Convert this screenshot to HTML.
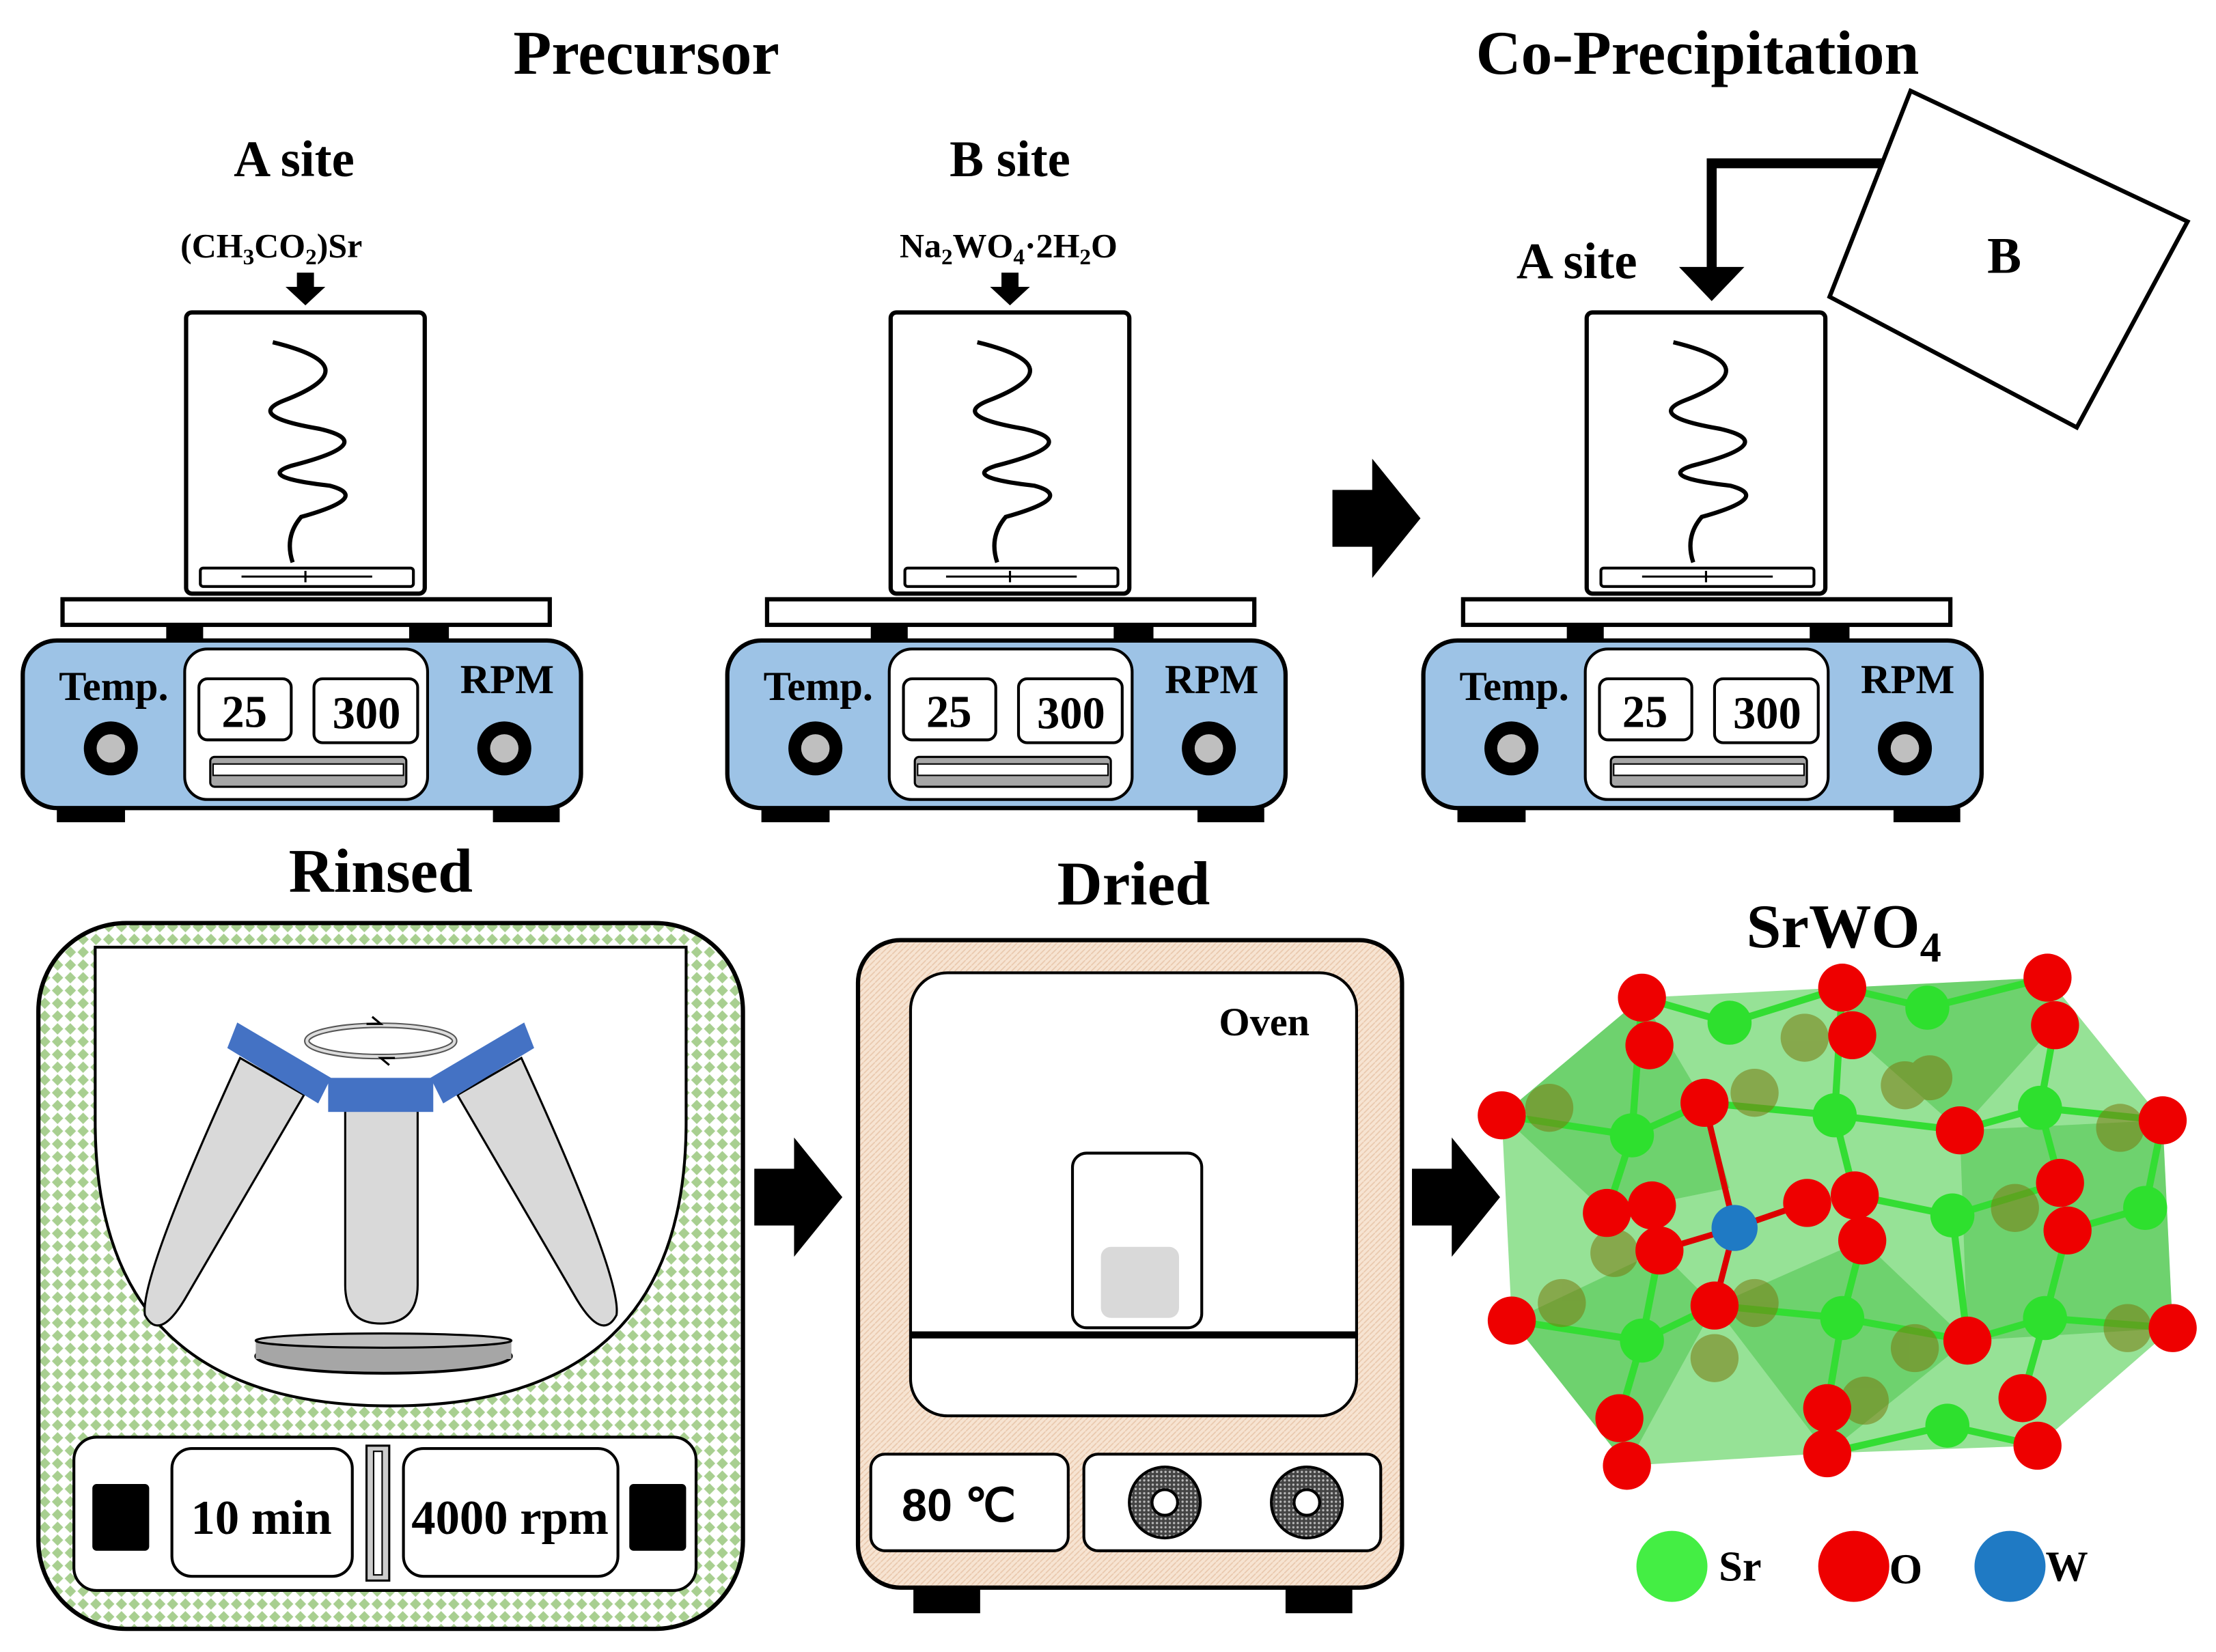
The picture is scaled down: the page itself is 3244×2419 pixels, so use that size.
<!DOCTYPE html>
<html><head><meta charset="utf-8"><style>html,body{margin:0;padding:0;background:#fff}svg{display:block}</style></head>
<body>
<svg width="3244" height="2419" viewBox="0 0 1560 1163.3" xmlns="http://www.w3.org/2000/svg" font-family="Liberation Serif, serif" font-weight="bold">
<defs>
<pattern id="dia" width="9" height="9" patternUnits="userSpaceOnUse">
<rect width="9" height="9" fill="#fff"/><path d="M4.5,0.5 L8.5,4.5 L4.5,8.5 L0.5,4.5Z" fill="#a8cf90"/></pattern>
<pattern id="peach" width="4" height="4" patternUnits="userSpaceOnUse"><rect width="4" height="4" fill="#f7e4d2"/><path d="M0,4 L4,0" stroke="#e9c8ad" stroke-width="0.8"/></pattern>
<pattern id="knobp" width="3" height="3" patternUnits="userSpaceOnUse"><rect width="3" height="3" fill="#444"/><circle cx="1.5" cy="1.5" r="0.8" fill="#bbb"/></pattern>
<g id="hp">
<rect x="131" y="220" width="168" height="198" rx="4" fill="#fff" stroke="#000" stroke-width="3"/>
<rect x="141" y="400" width="150" height="13" rx="2" fill="#fff" stroke="#000" stroke-width="2"/>
<path d="M170,406 H262 M215,402 V410" stroke="#000" stroke-width="1.5"/>
<path d="M192,241 Q262,258 200,282 Q172,293 225,302 Q268,312 205,328 Q180,336 232,342 Q262,350 212,364 Q200,378 206,396" fill="none" stroke="#000" stroke-width="3"/>
<rect x="44" y="422" width="343" height="18" fill="#fff" stroke="#000" stroke-width="3"/>
<rect x="117" y="440" width="26" height="11" fill="#000"/><rect x="288" y="440" width="28" height="11" fill="#000"/>
<rect x="16" y="451" width="393" height="118" rx="24" fill="#9dc3e6" stroke="#000" stroke-width="3"/>
<rect x="130" y="457" width="171" height="106" rx="16" fill="#fff" stroke="#000" stroke-width="2"/>
<rect x="140" y="478" width="65" height="43" rx="6" fill="#fff" stroke="#000" stroke-width="2"/>
<rect x="221" y="478" width="73" height="45" rx="6" fill="#fff" stroke="#000" stroke-width="2"/>
<rect x="148" y="533" width="138" height="21" rx="3" fill="#a6a6a6" stroke="#000" stroke-width="1.5"/>
<rect x="150" y="538" width="134" height="8" fill="#fff" stroke="#000" stroke-width="1"/>
<circle cx="78" cy="527" r="19" fill="#000"/><circle cx="78" cy="527" r="10" fill="#bfbfbf"/>
<circle cx="355" cy="527" r="19" fill="#000"/><circle cx="355" cy="527" r="10" fill="#bfbfbf"/>
<rect x="40" y="569" width="48" height="10" fill="#000"/><rect x="347" y="569" width="47" height="10" fill="#000"/>
</g>
<path id="bigarr" d="M0,-20 H28 V-42 L62,0 L28,42 V20 H0Z" fill="#000"/>
</defs>

<text x="455" y="52" font-size="44" text-anchor="middle">Precursor</text>
<text x="1195" y="52" font-size="44" text-anchor="middle">Co-Precipitation</text>

<use href="#hp"/>
<text x="207" y="124" font-size="36" text-anchor="middle">A site</text>
<text x="191" y="181" font-size="24" text-anchor="middle">(CH<tspan font-size="16" dy="5">3</tspan><tspan dy="-5">CO</tspan><tspan font-size="16" dy="5">2</tspan><tspan dy="-5">)Sr</tspan></text>
<path d="M209,192 H221 V202 H229 L215,215 L201,202 H209Z" fill="#000"/>
<g font-size="29"><text x="80" y="493" text-anchor="middle">Temp.</text><text x="357" y="488" text-anchor="middle">RPM</text>
<text x="172" y="512" text-anchor="middle" font-size="32">25</text><text x="258" y="513" text-anchor="middle" font-size="32">300</text></g>

<use href="#hp" transform="translate(496,0)"/>
<text x="711" y="124" font-size="36" text-anchor="middle">B site</text>
<text x="710" y="181" font-size="24" text-anchor="middle">Na<tspan font-size="16" dy="5">2</tspan><tspan dy="-5">WO</tspan><tspan font-size="16" dy="5">4</tspan><tspan dy="-5">·2H</tspan><tspan font-size="16" dy="5">2</tspan><tspan dy="-5">O</tspan></text>
<path d="M705,192 H717 V202 H725 L711,215 L697,202 H705Z" fill="#000"/>
<g font-size="29"><text x="576" y="493" text-anchor="middle">Temp.</text><text x="853" y="488" text-anchor="middle">RPM</text>
<text x="668" y="512" text-anchor="middle" font-size="32">25</text><text x="754" y="513" text-anchor="middle" font-size="32">300</text></g>

<use href="#bigarr" transform="translate(938,365)"/>

<use href="#hp" transform="translate(986,0)"/>
<text x="1110" y="196" font-size="36" text-anchor="middle">A site</text>
<g font-size="29"><text x="1066" y="493" text-anchor="middle">Temp.</text><text x="1343" y="488" text-anchor="middle">RPM</text>
<text x="1158" y="512" text-anchor="middle" font-size="32">25</text><text x="1244" y="513" text-anchor="middle" font-size="32">300</text></g>
<path d="M1336,115 H1205 V192" fill="none" stroke="#000" stroke-width="7"/>
<path d="M1182,188 H1228 L1205,212Z" fill="#000"/>
<path d="M1345,64 L1540,156 L1462,301 L1288,209Z" fill="#fff" stroke="#000" stroke-width="3"/>
<text x="1411" y="192" font-size="36" text-anchor="middle">B</text>

<text x="268" y="628" font-size="44" text-anchor="middle">Rinsed</text>
<rect x="27" y="650" width="496" height="497" rx="62" fill="url(#dia)" stroke="#000" stroke-width="3"/>
<path d="M67,667 H483 V790 Q483,990 275,990 Q67,990 67,790Z" fill="#fff" stroke="#000" stroke-width="2"/>
<path d="M169,745 L214,771 L130,915 Q112,945 102,926 Q98,900 169,745Z" fill="#d9d9d9" stroke="#000" stroke-width="1.5"/>
<path d="M367,745 L322,771 L406,915 Q424,945 434,926 Q438,900 367,745Z" fill="#d9d9d9" stroke="#000" stroke-width="1.5"/>
<path d="M243,778 H294 V905 Q294,932 268,932 Q243,932 243,905Z" fill="#d9d9d9" stroke="#000" stroke-width="1.5"/>
<path d="M167,720 L233,759 L224,777 L160,738Z" fill="#4472c4"/>
<path d="M369,720 L303,759 L312,777 L376,738Z" fill="#4472c4"/>
<rect x="231" y="759" width="74" height="24" fill="#4472c4"/>
<ellipse cx="268" cy="733" rx="52" ry="11" fill="none" stroke="#555" stroke-width="4"/>
<ellipse cx="268" cy="733" rx="52" ry="11" fill="none" stroke="#ddd" stroke-width="2"/>
<path d="M258,721 l10,0 -6,-5 M278,745 l-10,0 6,5" stroke="#000" fill="none" stroke-width="1.5"/>
<ellipse cx="270" cy="955" rx="90" ry="12" fill="#a6a6a6" stroke="#000" stroke-width="2"/>
<rect x="180" y="943" width="180" height="14" fill="#a6a6a6"/>
<ellipse cx="270" cy="944" rx="90" ry="5" fill="#bfbfbf" stroke="#000" stroke-width="1.5"/>
<rect x="52" y="1012" width="438" height="108" rx="16" fill="#fff" stroke="#000" stroke-width="2"/>
<rect x="65" y="1045" width="40" height="47" rx="3" fill="#000"/><rect x="443" y="1045" width="40" height="47" rx="3" fill="#000"/>
<rect x="121" y="1020" width="127" height="90" rx="14" fill="#fff" stroke="#000" stroke-width="2"/>
<rect x="284" y="1020" width="151" height="90" rx="14" fill="#fff" stroke="#000" stroke-width="2"/>
<rect x="258" y="1018" width="16" height="95" fill="#ccc" stroke="#000" stroke-width="1.5"/>
<rect x="263" y="1022" width="6" height="87" fill="#fff" stroke="#000" stroke-width="1"/>
<text x="184" y="1080" font-size="34" text-anchor="middle">10 min</text>
<text x="359" y="1080" font-size="34" text-anchor="middle">4000 rpm</text>

<use href="#bigarr" transform="translate(531,843)"/>

<text x="798" y="637" font-size="44" text-anchor="middle">Dried</text>
<rect x="643" y="1112" width="47" height="24" fill="#000"/><rect x="905" y="1112" width="47" height="24" fill="#000"/>
<rect x="604" y="662" width="383" height="456" rx="30" fill="url(#peach)" stroke="#000" stroke-width="3"/>
<rect x="641" y="685" width="314" height="312" rx="26" fill="#fff" stroke="#000" stroke-width="2"/>
<line x1="641" y1="940" x2="955" y2="940" stroke="#000" stroke-width="5"/>
<text x="890" y="729" font-size="28" text-anchor="middle">Oven</text>
<rect x="755" y="812" width="91" height="123" rx="10" fill="#fff" stroke="#000" stroke-width="2"/>
<rect x="775" y="878" width="55" height="50" rx="7" fill="#d9d9d9"/>
<rect x="613" y="1024" width="139" height="68" rx="10" fill="#fff" stroke="#000" stroke-width="2"/>
<rect x="763" y="1024" width="209" height="68" rx="10" fill="#fff" stroke="#000" stroke-width="2"/>
<text x="675" y="1071" font-size="32" text-anchor="middle" font-family="Liberation Sans, sans-serif">80 ℃</text>
<circle cx="820" cy="1058" r="25" fill="url(#knobp)" stroke="#000" stroke-width="2"/><circle cx="820" cy="1058" r="9" fill="#fff" stroke="#000" stroke-width="2"/>
<circle cx="920" cy="1058" r="25" fill="url(#knobp)" stroke="#000" stroke-width="2"/><circle cx="920" cy="1058" r="9" fill="#fff" stroke="#000" stroke-width="2"/>

<use href="#bigarr" transform="translate(994,843)"/>

<text x="1298" y="667" font-size="44" text-anchor="middle">SrWO<tspan font-size="30" dy="10">4</tspan></text>
<g transform="translate(1009.6,625) scale(0.3525)">
<path d="M135,455 L415,220 L815,200 L1225,180 L1455,465 L1475,880 L1205,1115 L785,1130 L385,1155 L155,865Z" fill="#6ad66a" opacity="0.7"/>
<path d="M415,220 L135,455 L345,650 L590,600 L540,430Z M815,200 L1225,180 L1240,275 L1050,485 L835,295Z M1050,485 L1455,465 L1475,880 L1065,905Z M560,835 L855,705 L1065,905 L785,1130Z M155,865 L450,725 L560,835 L385,1155Z" fill="#3fbf3f" opacity="0.45"/>
<g stroke="#33dd33" stroke-width="14">
<path d="M395,495 L415,220 M395,495 L135,455 M395,495 L540,430 M395,495 L345,650 M800,455 L815,200 M800,455 L540,430 M800,455 L1050,485 M800,455 L840,615 M1210,440 L1240,275 M1210,440 L1455,465 M1210,440 L1050,485 M1210,440 L1250,590 M1035,655 L840,615 M1035,655 L1250,590 M1035,655 L1065,905 M415,905 L155,865 M415,905 L450,725 M415,905 L370,1060 M415,905 L560,835 M815,860 L560,835 M815,860 L855,705 M815,860 L1065,905 M815,860 L785,1040 M1220,860 L1065,905 M1220,860 L1475,880 M1220,860 L1265,685 M1220,860 L1175,1020 M590,270 L415,220 M590,270 L815,200 M985,240 L815,200 M985,240 L1225,180 M1025,1075 L785,1130 M1025,1075 L1205,1115 M1420,640 L1455,465 M1420,640 L1265,685"/>
</g>
<g fill="#7a7a10" opacity="0.55">
<circle cx="230" cy="440" r="48"/><circle cx="640" cy="410" r="48"/><circle cx="940" cy="395" r="48"/><circle cx="1370" cy="480" r="48"/><circle cx="360" cy="730" r="48"/><circle cx="255" cy="830" r="48"/><circle cx="560" cy="940" r="48"/><circle cx="960" cy="920" r="48"/><circle cx="1385" cy="880" r="48"/><circle cx="1160" cy="640" r="48"/><circle cx="860" cy="1025" r="48"/><circle cx="640" cy="830" r="48"/><circle cx="740" cy="300" r="48"/><circle cx="990" cy="380" r="45"/>
</g>
<g fill="#2ee02e">
<circle cx="590" cy="270" r="44"/><circle cx="985" cy="240" r="44"/><circle cx="395" cy="495" r="44"/><circle cx="800" cy="455" r="44"/><circle cx="1210" cy="440" r="44"/><circle cx="1420" cy="640" r="44"/><circle cx="1035" cy="655" r="44"/><circle cx="415" cy="905" r="44"/><circle cx="815" cy="860" r="44"/><circle cx="1220" cy="860" r="44"/><circle cx="1025" cy="1075" r="44"/>
</g>
<path d="M600,680 L450,725 M600,680 L745,630 M600,680 L560,835 M600,680 L540,430" stroke="#d00" stroke-width="12"/>
<circle cx="600" cy="680" r="46" fill="#1f7ac4"/>
<g fill="#ee0000">
<circle cx="415" cy="220" r="48"/><circle cx="430" cy="315" r="48"/><circle cx="135" cy="455" r="48"/><circle cx="540" cy="430" r="48"/><circle cx="815" cy="200" r="48"/><circle cx="835" cy="295" r="48"/><circle cx="1225" cy="180" r="48"/><circle cx="1240" cy="275" r="48"/><circle cx="1455" cy="465" r="48"/><circle cx="1050" cy="485" r="48"/><circle cx="345" cy="650" r="48"/><circle cx="435" cy="635" r="48"/><circle cx="450" cy="725" r="48"/><circle cx="745" cy="630" r="48"/><circle cx="840" cy="615" r="48"/><circle cx="855" cy="705" r="48"/><circle cx="1250" cy="590" r="48"/><circle cx="1265" cy="685" r="48"/><circle cx="155" cy="865" r="48"/><circle cx="560" cy="835" r="48"/><circle cx="1065" cy="905" r="48"/><circle cx="1475" cy="880" r="48"/><circle cx="370" cy="1060" r="48"/><circle cx="385" cy="1155" r="48"/><circle cx="785" cy="1040" r="48"/><circle cx="785" cy="1130" r="48"/><circle cx="1175" cy="1020" r="48"/><circle cx="1205" cy="1115" r="48"/>
</g>
</g>
<circle cx="1177" cy="1103" r="25" fill="#44ee44"/>
<text x="1210" y="1113" font-size="30">Sr</text>
<circle cx="1305" cy="1103" r="25" fill="#ee0000"/>
<text x="1330" y="1115" font-size="30">O</text>
<circle cx="1415" cy="1103" r="25" fill="#1f7ac4"/>
<text x="1440" y="1113" font-size="30">W</text>
</svg>
</body></html>
